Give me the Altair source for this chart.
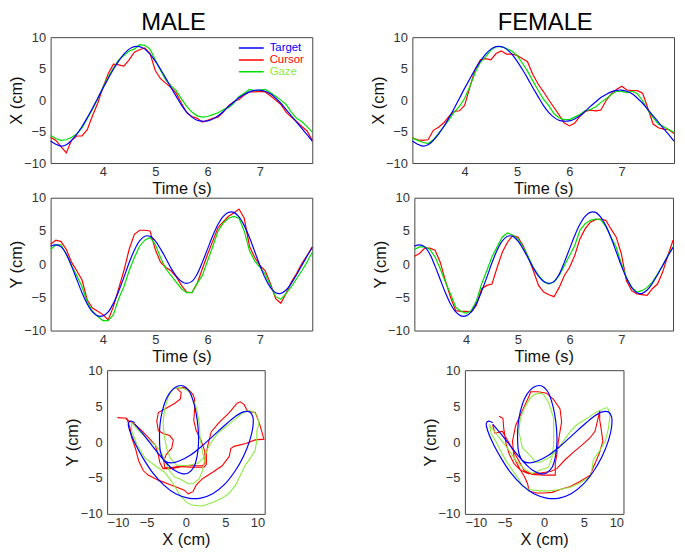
import altair as alt
import pandas as pd

# ---------------- data ----------------
TIME = [3.0, 3.1, 3.2, 3.3, 3.4, 3.5, 3.6, 3.7, 3.8, 3.9,
        4.0, 4.1, 4.2, 4.3, 4.4, 4.5, 4.6, 4.7, 4.8, 4.9,
        5.0, 5.1, 5.2, 5.3, 5.4, 5.5, 5.6, 5.7, 5.8, 5.9,
        6.0, 6.1, 6.2, 6.3, 6.4, 6.5, 6.6, 6.7, 6.8, 6.9,
        7.0, 7.1, 7.2, 7.3, 7.4, 7.5, 7.6, 7.7, 7.8, 7.9, 8.0]

TARGET_X = [-6.5, -7.0, -7.3, -7.1, -6.4, -5.4, -4.2, -2.8, -1.3, 0.3,
            1.9, 3.4, 4.9, 6.2, 7.3, 8.1, 8.5, 8.5, 8.1, 7.3,
            6.2, 4.9, 3.5, 2.0, 0.6, -0.8, -1.9, -2.7, -3.2, -3.35,
            -3.3, -3.0, -2.5, -1.8, -1.0, -0.3, 0.4, 0.9, 1.3, 1.55,
            1.6, 1.4, 1.0, 0.3, -0.5, -1.5, -2.5, -3.5, -4.5, -5.5, -6.5]
TARGET_Y = [2.7, 2.9, 2.6, 1.5, -0.3, -2.3, -4.3, -6.0, -7.2, -7.8,
            -7.8, -7.2, -5.9, -4.1, -2.0, 0.2, 2.1, 3.5, 4.2, 4.2,
            3.5, 2.3, 0.9, -0.6, -1.8, -2.6, -2.9, -2.6, -1.5, 0.3,
            2.3, 4.3, 6.0, 7.2, 7.8, 7.8, 7.1, 5.8, 4.0, 1.9,
            -0.2, -2.1, -3.5, -4.3, -4.4, -3.9, -2.9, -1.6, -0.2, 1.2, 2.5]

MALE_X_CURSOR = [-5.9, -6.4, -7.4, -8.4, -6.4, -5.7, -5.7, -4.7, -2.5, -0.5,
                 2.0, 4.2, 5.7, 5.6, 5.4, 6.4, 7.6, 8.0, 8.3, 7.4,
                 4.7, 3.4, 2.7, 2.0, 1.1, -0.5, -2.0, -2.6, -2.9, -3.5,
                 -3.2, -2.9, -2.7, -1.9, -0.9, -0.25, 0.1, 0.8, 1.3, 1.3,
                 1.4, 1.3, 0.7, 0.0, -0.7, -1.9, -2.7, -3.4, -4.2, -4.9, -6.4]
MALE_X_GAZE = [-5.6, -6.1, -6.4, -6.3, -5.9, -5.4, -4.4, -2.9, -1.5, 0.2,
               2.0, 3.7, 5.1, 6.4, 7.1, 7.8, 8.1, 8.8, 8.7, 8.1,
               6.4, 4.7, 3.2, 2.3, 1.5, 0.2, -1.0, -1.9, -2.5, -2.7,
               -2.6, -2.3, -2.0, -1.5, -1.2, -0.5, 0.6, 1.1, 1.7, 1.5,
               1.6, 1.7, 1.2, 0.6, 0.0, -0.7, -1.9, -2.9, -3.4, -4.2, -5.1]
FEMALE_X_CURSOR = [-6.0, -6.3, -6.4, -6.3, -4.8, -4.3, -3.6, -2.6, -1.8, -1.7,
                   -0.8, 2.1, 4.9, 6.4, 6.6, 6.4, 7.4, 7.8, 7.3, 7.3,
                   7.1, 6.6, 6.1, 4.1, 2.6, 1.4, 0.1, -1.1, -2.3, -3.6,
                   -4.1, -3.7, -2.6, -1.8, -1.6, -1.7, -1.6, -0.1, 1.0, 1.7,
                   2.2, 1.6, 1.5, 1.5, 1.1, -1.3, -3.8, -4.4, -4.6, -4.7, -5.3]
FEMALE_X_GAZE = [-6.0, -6.4, -6.7, -6.9, -6.3, -5.3, -4.2, -3.1, -1.9, -1.0,
                 0.3, 2.2, 4.4, 6.0, 6.9, 7.9, 8.5, 8.5, 8.2, 7.8,
                 7.1, 5.9, 4.6, 3.1, 1.6, 0.2, -0.8, -2.1, -2.8, -3.1,
                 -3.1, -2.7, -2.3, -1.7, -1.5, -1.1, -0.4, 0.2, 0.9, 1.4,
                 1.4, 1.2, 1.4, 1.0, -0.1, -1.6, -2.8, -3.8, -4.2, -4.7, -5.1]

MALE_Y_CURSOR = [3.0, 3.6, 3.4, 2.2, 0.3, -1.0, -2.4, -5.4, -6.6, -7.1,
                 -7.6, -8.4, -6.4, -3.7, -1.0, 2.2, 4.5, 5.1, 5.1, 5.0,
                 2.2, 0.3, -0.5, -1.0, -1.9, -3.2, -4.2, -4.3, -2.9, -0.7,
                 1.5, 3.5, 5.5, 6.4, 7.2, 7.7, 8.3, 6.9, 2.7, 1.0,
                 -0.2, -1.0, -2.9, -5.2, -5.9, -4.4, -2.7, -1.4, 0.1, 1.3, 2.6]
MALE_Y_GAZE = [2.2, 2.9, 2.9, 1.5, -0.2, -1.7, -3.4, -5.7, -7.1, -7.9,
               -8.5, -8.5, -7.6, -5.2, -3.4, -1.0, 1.0, 2.7, 3.6, 4.0,
               3.0, 1.0, -0.7, -1.7, -2.7, -3.7, -4.3, -4.3, -2.9, -1.7,
               0.5, 2.7, 5.0, 6.2, 6.9, 7.2, 6.9, 5.0, 2.0, 0.5,
               -0.5, -1.5, -3.2, -4.9, -5.3, -4.4, -3.4, -2.2, -1.0, 0.3, 1.8]
FEMALE_Y_CURSOR = [1.2, 1.6, 2.4, 2.4, 2.1, 0.3, -2.5, -5.0, -7.0, -7.1,
                   -7.1, -7.2, -6.2, -3.7, -3.2, -3.0, -0.5, 1.8, 3.3, 4.3,
                   4.1, 2.8, 1.1, -1.0, -3.2, -4.2, -4.6, -4.9, -3.5, -1.7,
                   -0.5, 1.3, 3.8, 5.3, 6.3, 6.7, 6.8, 6.6, 5.3, 4.1,
                   1.6, -2.5, -4.0, -4.5, -4.6, -4.7, -3.7, -3.0, -1.2, 1.3, 3.6]
FEMALE_Y_GAZE = [2.2, 2.6, 2.6, 2.2, 1.1, -0.7, -2.7, -4.5, -6.5, -7.1,
                 -7.4, -7.0, -5.5, -3.0, -1.0, 1.1, 2.6, 4.1, 4.7, 4.4,
                 3.8, 2.6, 1.1, -0.5, -1.7, -2.6, -3.0, -2.7, -1.7, -0.2,
                 1.3, 2.8, 5.1, 6.1, 6.6, 6.8, 6.7, 5.7, 4.1, 2.6,
                 0.1, -2.0, -3.5, -4.2, -4.0, -3.5, -2.7, -1.5, -0.2, 1.3, 2.6]

# X-Y trajectories (cursor / gaze)
MALE_XY_CURSOR_X = [-8.7, -7.5, -7.1, -6.9, -6.4, -6.0, -5.4, -4.8, -3.5, -1.8,
                    -0.2, 0.3, 0.9, 1.3, 2.1, 3.4, 4.6, 5.5, 5.7, 6.1,
                    7.6, 8.8, 9.9, 9.6, 9.3, 8.8, 7.8, 7.4, 6.9, 6.5,
                    5.5, 4.2, 3.2, 2.8, 2.6, 2.6, 2.3, 0.5, -1.0, -2.0,
                    -2.7, -2.8, -2.5, -1.8, -1.6, -2.05, -2.9, -3.5, -3.7, -3.5,
                    -2.5, -1.4, -0.7, -0.6, -1.2, -0.3, 0.4, 0.9, 1.1, 1.1,
                    1.0, 1.3, 1.9, 2.4, 2.4, 2.1, 0.0, -1.8, -2.9, -3.3,
                    -3.5, -3.9, -4.8, -5.6, -6.5, -7.6]
MALE_XY_CURSOR_Y = [3.4, 3.3, 2.0, 0.7, -0.9, -2.6, -4.0, -4.6, -5.3, -6.0,
                    -6.7, -7.2, -6.9, -6.0, -5.1, -4.2, -3.3, -2.0, -0.9, -0.6,
                    -0.2, 0.3, 0.4, 1.6, 2.7, 4.1, 4.3, 5.2, 5.6, 5.4,
                    4.1, 2.7, 1.4, -0.4, -1.5, -3.1, -3.5, -3.5, -3.4, -3.6,
                    -3.5, -2.6, -1.75, -0.85, 0.25, 0.9, 1.2, 1.6, 2.9, 4.1,
                    4.7, 5.4, 6.0, 6.9, 7.5, 7.6, 7.2, 6.6, 6.0, 4.5,
                    3.0, 1.6, 0.3, -1.3, -3.0, -3.3, -3.3, -3.7, -3.7, -2.9,
                    -1.8, -0.4, 0.7, 1.6, 2.5, 3.2]
MALE_XY_GAZE_X = [-6.9, -6.9, -6.2, -5.2, -3.9, -2.7, -1.8, -0.8, 0.05, 0.9,
                  2.1, 3.4, 4.6, 5.5, 6.3, 7.0, 7.6, 8.2, 8.8, 9.0,
                  9.0, 9.3, 9.0, 8.4, 7.6, 6.7, 5.5, 4.2, 3.4, 2.8,
                  2.4, 1.5, 0.0, -1.2, -2.0, -2.45, -2.75, -2.9, -2.7, -2.25,
                  -1.6, -0.8, 0.0, 0.5, 1.3, 1.7, 1.8, 2.1, 2.35, 2.1,
                  1.7, 0.9, 0.3, -0.8, -1.4, -2.1, -3.1, -3.7, -4.8, -6.0, -6.9]
MALE_XY_GAZE_Y = [2.9, 1.6, -0.4, -2.2, -3.3, -4.2, -5.5, -7.3, -8.4, -8.8,
                  -8.9, -8.4, -7.8, -7.1, -6.0, -4.4, -3.1, -2.2, -1.1, 0.3,
                  1.6, 2.7, 3.8, 4.3, 4.3, 3.6, 2.5, 1.4, 0.25, -0.85,
                  -2.0, -3.0, -3.3, -3.2, -2.2, -0.85, 0.9, 2.7, 4.5, 6.3,
                  7.4, 7.6, 7.3, 6.9, 4.9, 2.7, 0.5, -1.3, -2.6, -4.0,
                  -5.1, -5.8, -5.8, -5.1, -4.9, -4.0, -1.5, -0.6, 0.3, 1.6, 2.7]
FEMALE_XY_CURSOR_X = [-5.7, -5.2, -5.1, -4.8, -4.4, -3.8, -3.0, -2.5, -2.1, -1.9,
                      -1.0, 0.0, 1.0, 2.0, 3.3, 4.5, 5.8, 6.2, 6.6, 7.0,
                      7.4, 7.2, 7.0, 7.0, 6.8, 6.4, 5.8, 4.9, 3.7, 2.6,
                      1.6, 0.8, -0.5, -2.0, -3.0, -3.8, -4.0, -3.6, -2.5, -1.9,
                      -1.7, -0.8, 0.3, 1.2, 2.0, 2.2, 2.0, 1.8, 1.6, 1.4,
                      1.4, 0.0, -1.5, -2.5, -3.5, -4.5, -5.3, -6.2, -6.5]
FEMALE_XY_CURSOR_Y = [3.6, 3.3, 1.9, -0.3, -1.7, -3.0, -3.9, -4.8, -5.8, -6.8,
                      -7.1, -7.1, -7.0, -6.6, -6.2, -5.5, -4.6, -3.5, -2.5, -1.4,
                      0.1, 1.7, 3.1, 4.4, 3.3, 1.5, 0.6, -0.3, -1.4, -2.5,
                      -3.7, -4.1, -4.3, -4.4, -3.9, -2.2, 0.1, 2.3, 5.0, 6.4,
                      7.0, 7.0, 6.8, 5.9, 4.6, 2.8, 1.5, 0.2, -1.7, -3.0,
                      -4.6, -4.6, -4.5, -4.0, -2.0, 0.0, 1.5, 1.2, 2.4]
FEMALE_XY_GAZE_X = [-6.9, -6.7, -6.1, -5.5, -4.85, -4.0, -3.2, -2.75, -1.9, -0.5,
                    0.75, 2.0, 3.3, 4.5, 5.8, 6.0, 6.2, 7.0, 7.7, 8.1,
                    8.3, 8.07, 7.9, 6.6, 5.4, 4.1, 3.3, 2.4, 1.6, 0.75,
                    -0.5, -1.1, -1.9, -2.75, -3.2, -3.0, -2.55, -1.9, -1.3, -0.5,
                    -0.08, 0.55, 1.2, 1.2, 1.2, 1.0, 0.55, -0.5, -1.5, -2.55,
                    -3.6, -4.4, -5.3, -6.3, -6.9]
FEMALE_XY_GAZE_Y = [2.5, 1.2, 0.1, -1.2, -2.55, -3.9, -5.2, -6.1, -6.6, -6.8,
                    -6.8, -6.6, -6.3, -5.7, -4.8, -3.9, -2.5, -1.2, 0.1, 1.9,
                    3.7, 4.6, 4.8, 4.2, 3.3, 2.4, 1.5, 0.1, -1.2, -2.1,
                    -2.8, -2.8, -1.7, -0.8, 1.5, 3.3, 4.6, 5.9, 6.6, 6.8,
                    6.6, 5.5, 3.3, 1.5, -0.3, -2.1, -3.5, -3.9, -4.4, -3.7,
                    -2.55, -1.2, 0.1, 1.5, 2.4]

SERIES = ["Target", "Cursor", "Gaze"]
TS_COLORS = ["#0000ff", "#ff0000", "#00e000"]
XY_COLORS = ["#0000ff", "#ff0000", "#8cec40"]
FONT = "Liberation Sans"


def ts_frame(target, cursor, gaze):
    recs = []
    for s, vals in (("Cursor", cursor), ("Gaze", gaze), ("Target", target)):
        for i, (t, v) in enumerate(zip(TIME, vals)):
            recs.append({"t": t, "v": v, "s": s, "i": i})
    return pd.DataFrame(recs)


def xy_frame(cx, cy, gx, gy):
    recs = []
    for s, xs, ys in (("Cursor", cx, cy), ("Gaze", gx, gy), ("Target", TARGET_X, TARGET_Y)):
        for i, (a, b) in enumerate(zip(xs, ys)):
            recs.append({"x": a, "y": b, "s": s, "i": i})
    return pd.DataFrame(recs)


LEGEND = alt.Legend(
    orient="none", legendX=189, legendY=6, title=None,
    symbolType="stroke", symbolSize=625, symbolStrokeWidth=1.5,
    labelFontSize=11.5, labelFont=FONT, clipHeight=10, rowPadding=0,
    padding=0, labelOffset=5,
    labelColor=alt.ExprRef(expr="datum.label === 'Target' ? '#0000ff' : datum.label === 'Cursor' ? '#ff0000' : '#8cec40'"),
)


def ts_chart(df, ytitle, w, h, legend=None, title=None):
    x = alt.X("t:Q", scale=alt.Scale(domain=[3, 8], nice=False, zero=False),
              axis=alt.Axis(values=[4, 5, 6, 7], title="Time (s)"))
    y = alt.Y("v:Q", scale=alt.Scale(domain=[-10, 10], nice=False),
              axis=alt.Axis(values=[-10, -5, 0, 5, 10], title=ytitle))
    col = alt.Color("s:N", scale=alt.Scale(domain=SERIES, range=TS_COLORS), legend=legend)
    base = alt.Chart(df)
    others = base.transform_filter("datum.s != 'Target'").mark_line(strokeWidth=1.2).encode(
        x=x, y=y, color=col, order="i:Q")
    targ = base.transform_filter("datum.s == 'Target'").mark_line(
        strokeWidth=1.2, interpolate="catmull-rom").encode(x=x, y=y, color=col, order="i:Q")
    ch = alt.layer(others, targ).properties(width=w, height=h)
    if title is not None:
        ch = ch.properties(title=title)
    return ch


def xy_chart(df, w, h):
    x = alt.X("x:Q", scale=alt.Scale(domain=[-10, 10], nice=False),
              axis=alt.Axis(values=[-10, -5, 0, 5, 10], title="X (cm)"))
    y = alt.Y("y:Q", scale=alt.Scale(domain=[-10, 10], nice=False),
              axis=alt.Axis(values=[-10, -5, 0, 5, 10], title="Y (cm)"))
    col = alt.Color("s:N", scale=alt.Scale(domain=SERIES, range=XY_COLORS), legend=None)
    base = alt.Chart(df)
    others = base.transform_filter("datum.s != 'Target'").mark_line(strokeWidth=1.1).encode(
        x=x, y=y, color=col, order="i:Q")
    targ = base.transform_filter("datum.s == 'Target'").mark_line(
        strokeWidth=1.2, interpolate="catmull-rom").encode(x=x, y=y, color=col, order="i:Q")
    return alt.layer(others, targ).properties(width=w, height=h)


def title(txt, dx):
    return alt.Title(txt, fontSize=24, font=FONT, fontWeight="normal", color="black",
                     anchor="middle", frame="group", dx=dx, offset=-4)


mx = ts_chart(ts_frame(TARGET_X, MALE_X_CURSOR, MALE_X_GAZE), "X (cm)", 264, 127,
              legend=LEGEND, title=title("MALE", -8))
fx = ts_chart(ts_frame(TARGET_X, FEMALE_X_CURSOR, FEMALE_X_GAZE), "X (cm)", 264, 127,
              title=title("FEMALE", 2))
my = ts_chart(ts_frame(TARGET_Y, MALE_Y_CURSOR, MALE_Y_GAZE), "Y (cm)", 264, 134)
fy = ts_chart(ts_frame(TARGET_Y, FEMALE_Y_CURSOR, FEMALE_Y_GAZE), "Y (cm)", 261, 134)
mxy = xy_chart(xy_frame(MALE_XY_CURSOR_X, MALE_XY_CURSOR_Y, MALE_XY_GAZE_X, MALE_XY_GAZE_Y), 159, 145)
fxy = xy_chart(xy_frame(FEMALE_XY_CURSOR_X, FEMALE_XY_CURSOR_Y, FEMALE_XY_GAZE_X, FEMALE_XY_GAZE_Y), 160, 145)

spacer = alt.Chart(pd.DataFrame({"a": [0]})).mark_point(opacity=0).encode(
    x=alt.X("a:Q", axis=None), y=alt.Y("a:Q", axis=None)
).properties(width=13, height=20, view=alt.ViewBackground(stroke="transparent"))

row1 = alt.hconcat(mx, fx, spacing=55).resolve_scale(color="independent")
row2 = alt.hconcat(my, fy, spacing=57).resolve_scale(color="independent")
row3 = alt.hconcat(spacer, alt.hconcat(mxy, fxy, spacing=157).resolve_scale(color="independent"),
                   spacing=0).resolve_scale(color="independent")
top = alt.vconcat(row1, row2, spacing=-9).resolve_scale(color="independent")

chart = alt.vconcat(top, row3, spacing=-2).resolve_scale(color="independent").properties(
    padding=0
).configure(font=FONT).configure_axis(
    labelFont=FONT, labelFontSize=13, labelColor="#333333",
    titleFont=FONT, titleFontSize=16.5, titleFontWeight="normal", titleColor="#111111",
    ticks=False, tickSize=0, domain=False, grid=False,
).configure_axisX(labelPadding=3, titlePadding=2).configure_axisY(
    labelPadding=5, titlePadding=2.5, minExtent=24, maxExtent=24
).configure_view(stroke="#444444", strokeWidth=1)

chart.save("out.html", embed_options={"renderer": "svg", "actions": False})
